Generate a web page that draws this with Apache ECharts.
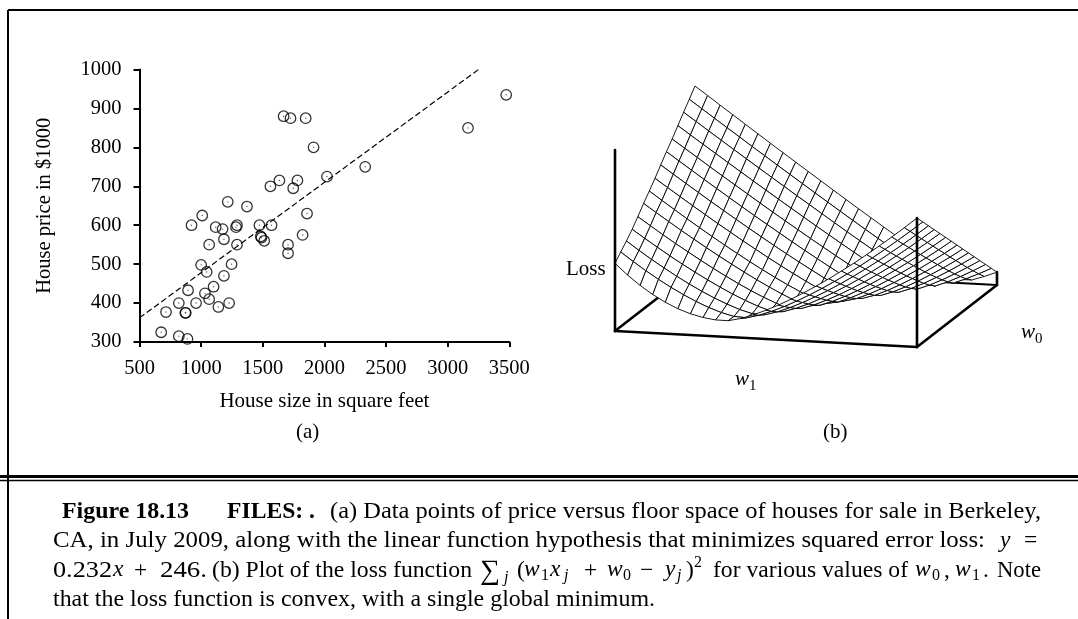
<!DOCTYPE html>
<html><head><meta charset="utf-8">
<style>html,body{margin:0;padding:0;background:#fff}#c{width:1078px;height:619px}</style>
<script src="https://cdn.jsdelivr.net/npm/echarts@6/dist/echarts.min.js"></script></head>
<body><div id="c"></div><script>
const sizes=[676,819,889,715,872,875,819,959,894,1031,1065,1101,1140,1227,1185,1045,1000,1247,1065,1291,1185,1174,1118,922,1009,1216,1372,1283,1291,1473,1571,1484,1490,1512,1705,1705,1823,1859,1747,1562,1635,1781,2021,2331,3165,3475,1912,1669,1725,1848];
const prices=[325,315,308,377,375,375,400,400,433,425,410,442,390,400,470,480,498,500,550,550,564,590,595,600,625,660,648,595,600,600,600,571,568,560,550,528,575,630,695,700,715,715,725,750,850,935,800,880,875,875];
const fitX=[500,3250];
const fitY=[362,1000];
// Loss surface heights: one row per w0 grid line, one value per w1 grid line.
const loss=[
[67.7,56.6,46.9,38.5,31.4,25.6,21.2,18.2,16.4,16.3,19.2,23.5,28.8,34.7,41.2,48.2,55.7,63.6,72.0,80.6,89.7,99.1,108.7,118.7,129.0],
[74.6,65.6,57.1,49.2,41.8,35.1,29.0,23.7,19.3,16.1,15.5,18.8,23.4,28.8,35.0,41.7,48.9,56.6,64.7,73.2,82.1,91.3,100.8,110.6,120.7],
[81.1,72.4,64.0,56.1,48.5,41.4,34.7,28.7,23.3,18.6,15.1,14.8,18.4,23.3,29.0,35.4,42.3,49.7,57.6,65.9,74.5,83.5,92.8,102.5,112.4],
[88.4,80.0,71.8,63.8,56.1,48.8,41.8,35.1,28.9,23.2,18.1,14.1,14.1,18.1,23.2,29.2,35.8,42.9,50.5,58.5,67.0,75.8,84.9,94.4,104.1],
[96.6,88.1,79.8,71.7,63.9,56.2,48.8,41.7,34.9,28.5,22.6,17.3,12.9,13.5,17.8,23.2,29.4,36.2,43.5,51.3,59.5,68.1,77.0,86.2,95.8],
[105.4,96.9,88.6,80.3,72.3,64.4,56.7,49.3,42.0,35.0,28.4,22.1,16.4,11.7,13.0,17.6,23.2,29.6,36.6,44.1,52.1,60.4,69.1,78.1,87.5],
[113.4,104.7,96.1,87.6,79.3,71.2,63.2,55.5,47.9,40.6,33.6,26.9,20.6,14.9,10.2,12.5,17.4,23.3,29.9,37.1,44.7,52.8,61.3,70.1,79.2],
[121.7,113.1,104.6,96.2,87.9,79.7,71.7,63.7,56.0,48.3,40.9,33.7,26.7,20.1,14.0,8.9,12.1,17.3,23.4,30.2,37.5,45.3,53.5,62.0,70.9],
[130.6,122.0,113.5,105.0,96.6,88.3,80.1,72.0,64.0,56.1,48.4,40.8,33.4,26.2,19.3,12.9,7.8,11.7,17.1,23.4,30.4,37.8,45.7,54.0,62.6],
[139.4,130.8,122.2,113.6,105.2,96.7,88.4,80.1,72.0,63.9,55.9,48.0,40.3,32.7,25.4,18.2,11.5,7.0,11.3,17.0,23.5,30.5,38.0,46.0,54.3],
[147.7,139.1,130.5,121.9,113.4,105.0,96.6,88.2,79.9,71.7,63.6,55.5,47.6,39.7,32.0,24.4,17.1,10.1,6.4,11.0,16.8,23.4,30.5,38.1,46.0],
[156.6,148.0,139.3,130.8,122.2,113.7,105.2,96.8,88.4,80.1,71.8,63.5,55.4,47.3,39.3,31.4,23.6,16.0,8.7,5.8,10.6,16.5,23.1,30.2,37.7],
[165.6,156.9,148.2,139.5,130.9,122.3,113.7,105.2,96.7,88.2,79.8,71.4,63.0,54.7,46.5,38.4,30.3,22.4,14.6,7.1,5.2,10.1,16.0,22.5,29.4],
[174.1,165.3,156.5,147.7,139.0,130.2,121.6,112.9,104.3,95.7,87.1,78.6,70.1,61.7,53.3,45.0,36.8,28.7,20.7,12.8,5.3,4.5,9.4,15.0,21.1],
[183.0,174.1,165.1,156.3,147.4,138.5,129.7,120.9,112.2,103.5,94.8,86.1,77.5,68.9,60.4,52.0,43.6,35.3,27.1,19.0,11.1,3.5,3.7,7.9,12.8]
];
const SX=12.583,SXY=.667,VX=5.714,VY=4.43;
function proj(k,j,h){return [3+k*SX+j*VX, 261+k*SXY-j*VY-h];}
const cells=[];for(let j=13;j>=0;j--)for(let k=0;k<24;k++)cells.push([k,j]);
const chart=echarts.init(document.getElementById('c'),null,{renderer:'canvas'});
const ctx=document.createElement('canvas').getContext('2d');
const F='Liberation Serif';
function seg(text,x0,x1,base,o={}){const size=o.size||23.5,w=o.weight||'normal',st=o.style||'normal';
 ctx.font=`${st} ${w} ${size}px "${F}"`;const mw=ctx.measureText(text).width;
 return {type:'text',x:x0,y:base-size*.74,scaleX:x1?(x1-x0)/mw:1,originX:0,originY:0,silent:true,style:{text,fill:'#000',font:`${st} ${w} ${size}px "${F}"`,align:'left',verticalAlign:'top'}};}
const rule=(x1,y1,x2,y2,lw)=>({type:'line',silent:true,shape:{x1,y1,x2,y2},style:{stroke:'#000',lineWidth:lw}});
const it={style:'italic'};const sub={size:16};const subi={size:16,style:'italic'};
const B1=517,B2=546.5,B3=576,B4=605;
const graphic=[
rule(8,10,1078,10,2),rule(8,10,8,619,2),rule(0,476.5,1078,476.5,3),rule(0,480.5,1078,480.5,1.5),
seg('(a)',296,0,438,{size:21}),seg('(b)',823,0,438,{size:21}),seg('Loss',566,0,275,{size:21}),
seg('w',735,0,385,{size:21,style:'italic'}),seg('1',749,0,390,{size:15}),
seg('w',1021,0,338,{size:21,style:'italic'}),seg('0',1035,0,343,{size:15}),
seg('Figure 18.13',62,189,B1,{weight:'bold'}),seg('FILES: .',227,315,B1,{weight:'bold'}),
seg('(a) Data points of price versus floor space of houses for sale in Berkeley,',330,1041,B1),
seg('CA, in July 2009, along with the linear function hypothesis that minimizes squared error loss:',53,985,B2),
seg('y',1000,0,B2,it),seg('=',1024,0,B2),
seg('0.232',53,112,B3),seg('x',113,0,B3,it),seg('+',134,0,B3),seg('246.',160,207,B3),
seg('(b) Plot of the loss function',212,472,B3),
seg('\u2211',480,0,B3+2,{size:28}),seg('j',504,0,B3+6,subi),seg('(',517,0,B3),seg('w',524,0,B3,it),seg('1',541,0,B3+4,sub),
seg('x',550,0,B3,it),seg('j',564,0,B3+4,subi),seg('+',584,0,B3),seg('w',607,0,B3,it),seg('0',623,0,B3+4,sub),
seg('\u2212',640,0,B3),seg('y',665,0,B3,it),seg('j',677,0,B3+4,subi),seg(')',686,0,B3),seg('2',694,0,B3-9,sub),
seg('for various values of',713,908,B3),seg('w',915,0,B3,it),seg('0',932,0,B3+4,sub),seg(',',944,0,B3),seg('w',955,0,B3,it),seg('1',972,0,B3+4,sub),seg('.',983,0,B3),
seg('Note',997,1041,B3),
seg('that the loss function is convex, with a single global minimum.',53,655,B4)];
const edge=(pts,lw,z)=>({type:'custom',xAxisIndex:1,yAxisIndex:1,clip:false,silent:true,z,data:[[0]],renderItem:(p,api)=>({type:'polyline',shape:{points:pts.map(a=>api.coord(proj(...a)))},style:{stroke:'#000',fill:null,lineWidth:lw,lineCap:'round'}})});
chart.setOption({animation:false,backgroundColor:'#fff',graphic,
grid:[{left:139.5,top:69.5,width:369.8,height:272.5},{left:612,top:70,width:400,height:300,show:false}],
xAxis:[{type:'value',min:500,max:3500,interval:500,gridIndex:0,splitLine:{show:false},
 axisLine:{lineStyle:{color:'#000',width:2}},axisTick:{length:5,lineStyle:{color:'#000',width:2},alignWithLabel:true},
 axisLabel:{color:'#000',fontFamily:F,fontSize:20.5,margin:16,formatter:v=>String(v),hideOverlap:false},name:'House size in square feet',nameLocation:'middle',nameGap:49,nameTextStyle:{color:'#000',fontFamily:F,fontSize:21}},
 {type:'value',min:0,max:400,gridIndex:1,show:false}],
yAxis:[{type:'value',min:300,max:1000,interval:100,gridIndex:0,splitLine:{show:false},
 axisLine:{lineStyle:{color:'#000',width:2}},axisTick:{length:6,lineStyle:{color:'#000',width:2}},
 axisLabel:{color:'#000',fontFamily:F,fontSize:20.5,margin:18,formatter:v=>String(v)},name:'House price in $1000',nameLocation:'middle',nameGap:84,nameTextStyle:{color:'#000',fontFamily:F,fontSize:20.5}},
 {type:'value',min:0,max:300,inverse:true,gridIndex:1,show:false}],
series:[
{type:'line',data:fitX.map((x,i)=>[x,fitY[i]]),symbol:'none',lineStyle:{color:'#000',width:1.2,type:[6,3]},z:2,silent:true},
{type:'scatter',data:sizes.map((x,i)=>[x,prices[i]]),symbol:'circle',symbolSize:10.5,clip:false,itemStyle:{color:'rgba(0,0,0,0)',borderColor:'#000',borderWidth:1.3},z:3,silent:true},
{type:'scatter',data:sizes.map((x,i)=>[x,prices[i]]),symbol:'circle',symbolSize:1.4,clip:false,itemStyle:{color:'#333'},z:3,silent:true},
edge([[0,14,0],[24,14,0]],2,4),edge([[0,0,0],[0,14,0]],2.6,4),edge([[24,14,0],[24,14,13]],2.6,4),
{type:'custom',xAxisIndex:1,yAxisIndex:1,clip:false,silent:true,z:5,data:cells,renderItem:(p,api)=>{const k=api.value(0),j=api.value(1);
 const pts=[[k,j],[k+1,j],[k+1,j+1],[k,j+1]].map(a=>api.coord(proj(a[0],a[1],loss[a[1]][a[0]])));
 return {type:'polygon',shape:{points:pts},style:{fill:'#fff',stroke:'#000',lineWidth:.9}};}},
edge([[0,0,0],[0,0,181]],2.6,6),edge([[0,0,0],[24,0,0]],2.6,6),edge([[24,0,0],[24,0,129]],2.6,6),edge([[24,0,0],[24,14,0]],2.6,6)
]});
</script></body></html>
